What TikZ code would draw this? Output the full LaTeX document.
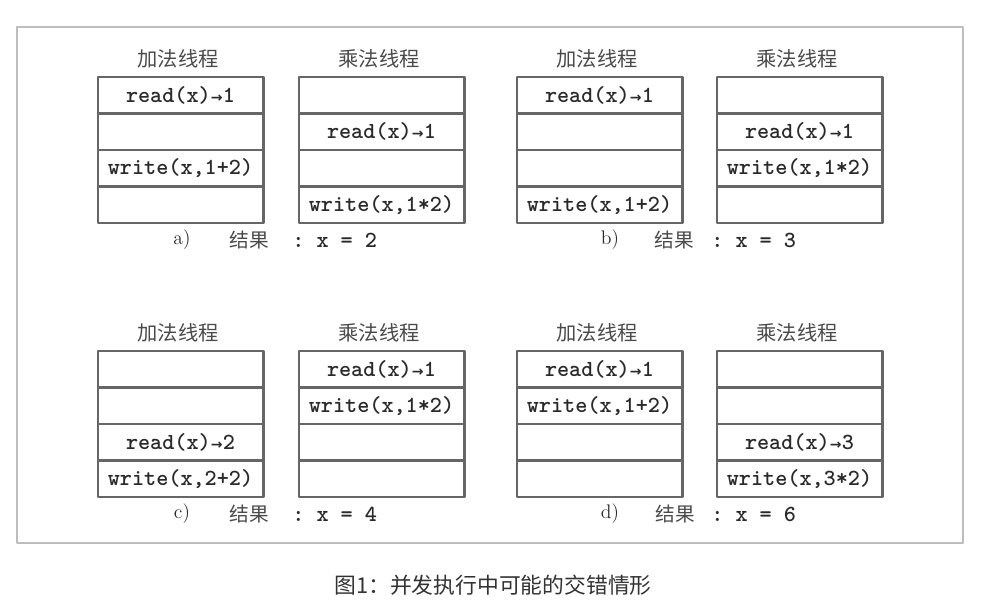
\documentclass[tikz,border=0pt]{standalone}
\usepackage{fontspec}
\newfontfamily\cjk{Noto Sans CJK SC}
\newfontfamily\arrowfont{DejaVu Sans}
\usetikzlibrary{positioning}
\definecolor{FrameGray}{HTML}{BDBDBD}
\definecolor{CellGray}{HTML}{666666}
\definecolor{TitleGray}{HTML}{4A4A4A}
\definecolor{CodeBlack}{HTML}{2A2A2A}
\definecolor{CaptionGray}{HTML}{333333}
\newcommand{\ttarrow}{\makebox[0.525em]{\arrowfont\bfseries\fontsize{10}{12}\selectfont →}}

\begin{document}
\begin{tikzpicture}[
  x=0.025cm,
  y=-0.025cm,
  line join=round,
  every node/.style={inner sep=0pt},
  cell/.style={draw=CellGray,line width=2.1pt,minimum width=4.125cm,
    minimum height=0.9125cm,text=CodeBlack,
    font=\ttfamily\bfseries\fontsize{16.4}{18}\selectfont},
  thread title/.style={text=TitleGray,font=\cjk\fontsize{14.4}{16}\selectfont},
  result tag/.style={text=CodeBlack,font=\fontsize{14}{16}\selectfont},
  result text/.style={text=TitleGray,font=\cjk\fontsize{14}{16}\selectfont},
  result value/.style={anchor=west,text=CodeBlack,
    font=\ttfamily\bfseries\fontsize{16.4}{18}\selectfont}
]
\useasboundingbox (0,0) rectangle (984,606);

% Outer frame around the four cases.
\draw[FrameGray,line width=1pt] (17,27) rectangle (963,543);

% One thread: a title and four time slots stacked downwards.
\newcommand{\DrawStack}[5]{%
  \node[thread title] (#1-title) at ({#2+80},{#3-18}) {#4};
  \foreach \txt [count=\r] in {#5} {
    \node[cell] (#1-\r) at ({#2+82.5},{#3+(\r-0.5)*36.5}) {\txt};
  }%
}

% Case a.
\DrawStack{a-add}{98}{77}{加法线程}{{read(x)\ttarrow1},{},{write(x,1+2)},{}}
\DrawStack{a-mul}{299}{77}{乘法线程}{{},{read(x)\ttarrow1},{},{write(x,1*2)}}
\node[result tag] (a-tag) at (182,240) {a)};
\node[result text] (a-res) at (249,240) {结果};
\node[result value] (a-val) at (292,240) {:\ x\ =\ 2};

% Case b.
\DrawStack{b-add}{517}{77}{加法线程}{{read(x)\ttarrow1},{},{},{write(x,1+2)}}
\DrawStack{b-mul}{717}{77}{乘法线程}{{},{read(x)\ttarrow1},{write(x,1*2)},{}}
\node[result tag] (b-tag) at (610,240) {b)};
\node[result text] (b-res) at (674,240) {结果};
\node[result value] (b-val) at (711,240) {:\ x\ =\ 3};

% Case c.
\DrawStack{c-add}{98}{351}{加法线程}{{},{},{read(x)\ttarrow2},{write(x,2+2)}}
\DrawStack{c-mul}{299}{351}{乘法线程}{{read(x)\ttarrow1},{write(x,1*2)},{},{}}
\node[result tag] (c-tag) at (182,514) {c)};
\node[result text] (c-res) at (249,514) {结果};
\node[result value] (c-val) at (292,514) {:\ x\ =\ 4};

% Case d.
\DrawStack{d-add}{517}{351}{加法线程}{{read(x)\ttarrow1},{write(x,1+2)},{},{}}
\DrawStack{d-mul}{717}{351}{乘法线程}{{},{},{read(x)\ttarrow3},{write(x,3*2)}}
\node[result tag] (d-tag) at (610,514) {d)};
\node[result text] (d-res) at (675,514) {结果};
\node[result value] (d-val) at (711,514) {:\ x\ =\ 6};

\node[text=CaptionGray,font=\cjk\fontsize{15.5}{18}\selectfont] (caption)
  at (493,585) {图1：并发执行中可能的交错情形};

\end{tikzpicture}
\end{document}
